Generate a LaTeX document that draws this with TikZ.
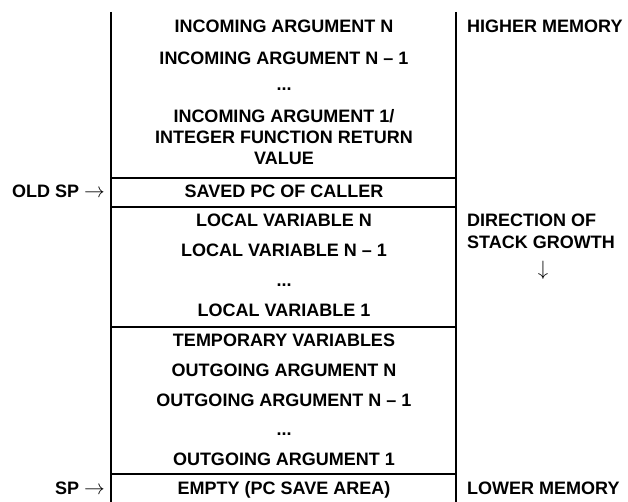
\documentclass[tikz,border=0pt]{standalone}
\usepackage{fontspec}
\setmainfont{Liberation Sans}
\usetikzlibrary{positioning}
\tikzset{
    cell/.style={font=\fontsize{18}{21}\selectfont\bfseries, anchor=base, inner sep=0pt},
    side/.style={cell, anchor=base west},
    ptr/.style={cell, anchor=base east},
    frame/.style={draw=black, line width=1.3pt},
    divider/.style={draw=black, line width=1.6pt}
}
\newcommand{\ptrarrow}{\scalebox{1.2}{$\rightarrow$}}

\begin{document}
\begin{tikzpicture}[x=1pt, y=-1pt]
        \useasboundingbox (0,0) rectangle (628,502);

        % Frame of the stack
        \coordinate (TL) at (111,12);
        \coordinate (BL) at (111,502);
        \coordinate (TR) at (456,12);
        \coordinate (BR) at (456,502);
        \draw[frame] (TL) -- (BL);
        \draw[frame] (TR) -- (BR);

        % Dividers between the areas
        \coordinate (oldsp) at (111,178);
        \coordinate (locals) at (111,207);
        \coordinate (temps) at (111,327);
        \coordinate (sp) at (111,474);
        \draw[divider] (oldsp) -- (oldsp -| TR);
        \draw[divider] (locals) -- (locals -| TR);
        \draw[divider] (temps) -- (temps -| TR);
        \draw[divider] (sp) -- (sp -| TR);

        % Incoming arguments
        \node[cell] (InN) at (284,32.3) {INCOMING ARGUMENT N};
        \node[cell] (InN1) at (284,65) {INCOMING ARGUMENT N -- 1};
        \node[cell] (InDots) at (284,91) {...};
        \node[cell] (In1) at (284,122.7) {INCOMING ARGUMENT 1/};
        \node[cell] (InRet) at (284,144) {INTEGER FUNCTION RETURN};
        \node[cell] (InVal) at (284,165) {VALUE};

        % Saved PC
        \node[cell] (SavedPC) at (284,197.3) {SAVED PC OF CALLER};

        % Locals
        \node[cell] (LocN) at (284,226.7) {LOCAL VARIABLE N};
        \node[cell] (LocN1) at (284,257) {LOCAL VARIABLE N -- 1};
        \node[cell] (LocDots) at (284,287) {...};
        \node[cell] (Loc1) at (284,316.7) {LOCAL VARIABLE 1};

        % Temporaries and outgoing arguments
        \node[cell] (Temp) at (284,346) {TEMPORARY VARIABLES};
        \node[cell] (OutN) at (284,376.5) {OUTGOING ARGUMENT N};
        \node[cell] (OutN1) at (284,406.3) {OUTGOING ARGUMENT N -- 1};
        \node[cell] (OutDots) at (284,435) {...};
        \node[cell] (Out1) at (284,465.3) {OUTGOING ARGUMENT 1};
        \node[cell] (Empty) at (284,494.5) {EMPTY (PC SAVE AREA)};

        % Pointers
        \node[ptr] (OldSP) at (105,197.3) {OLD SP \ptrarrow};
        \node[ptr] (SP) at (105,494.5) {SP \ptrarrow};

        % Memory side
        \node[side] (High) at (467,32.3) {HIGHER MEMORY};
        \node[side] (Dir) at (467,226.7) {DIRECTION OF};
        \node[side] (Growth) at (467,248.5) {STACK GROWTH};
        \node[cell, anchor=center] (DirArrow) at (543,270) {\scalebox{1.2}{$\downarrow$}};
        \node[side] (Low) at (467,494.5) {LOWER MEMORY};
    \end{tikzpicture}
\end{document}
